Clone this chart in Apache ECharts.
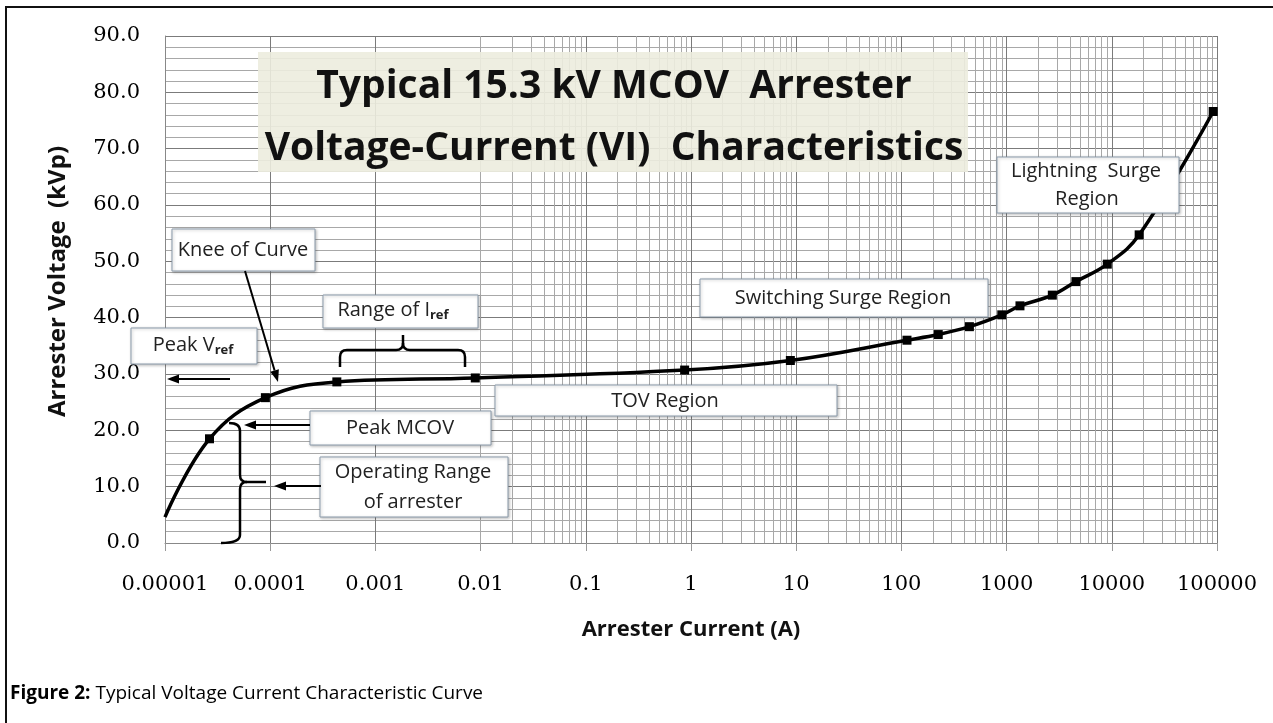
<!DOCTYPE html>
<html>
<head>
<meta charset="utf-8">
<script src="https://cdn.jsdelivr.net/npm/echarts@6/dist/echarts.min.js"></script>
<style>
  html, body { margin: 0; padding: 0; background: #fff; }
  #chart { width: 1273px; height: 723px; }
</style>
</head>
<body>
<div id="chart"></div>
<script>
// values (current in A, voltage in kVp)
const currentA = [1e-5, 2.65e-5, 9.0e-5, 4.3e-4, 8.9e-3, 0.87, 8.8, 113, 224, 443, 900, 1340, 2720, 4560, 9060, 18200, 92000];
const voltageKV = [4.6, 18.5, 25.8, 28.6, 29.3, 30.7, 32.4, 36.0, 37.0, 38.4, 40.5, 42.1, 44.0, 46.4, 49.5, 54.7, 76.6];
const xTickLabels = ['0.00001', '0.0001', '0.001', '0.01', '0.1', '1', '10', '100', '1000', '10000', '100000'];
const decades = [-5, -4, -3, -2, -1, 0, 1, 2, 3, 4];
const minorSteps = [2, 3, 4, 5, 6, 7, 8, 9];

const SANS = '"Open Sans", "Noto Sans", sans-serif';
const SERIF = '"DejaVu Serif", "Liberation Serif", serif';

const curve = currentA.map((x, i) => ({
  value: [x, voltageKV[i]],
  symbol: i === 0 ? 'none' : 'rect'
}));

// minor log gridlines (2..9 inside each decade)
const minorGrid = [];
decades.forEach(d => minorSteps.forEach(k => minorGrid.push({ xAxis: k * Math.pow(10, d) })));

function box(x, y, w, h) {
  return {
    type: 'rect', z: 100,
    shape: { x, y, width: w, height: h },
    style: { fill: '#fff', stroke: '#8b9bab', lineWidth: 1, shadowBlur: 3, shadowOffsetX: 1, shadowOffsetY: 1, shadowColor: 'rgba(0,0,0,0.25)' }
  };
}
function label(x, y, text, extra) {
  return {
    type: 'text', z: 101, x, y,
    style: Object.assign({ text, font: '20px ' + SANS, fill: '#222', align: 'center', verticalAlign: 'middle' }, extra || {})
  };
}
function arrow(x1, y1, x2, y2) {
  const dx = x2 - x1, dy = y2 - y1, len = Math.hypot(dx, dy);
  const ux = dx / len, uy = dy / len, hl = 12, hw = 4.5;
  const bx = x2 - ux * hl, by = y2 - uy * hl;
  return [
    { type: 'line', z: 102, shape: { x1, y1, x2: bx, y2: by }, style: { stroke: '#000', lineWidth: 2 } },
    { type: 'polygon', z: 102, shape: { points: [[x2, y2], [bx - uy * hw, by + ux * hw], [bx + uy * hw, by - ux * hw]] }, style: { fill: '#000' } }
  ];
}
// brace made of straight ('L') and quadratic ('Q') pieces
function brace(parts) {
  const st = { stroke: '#000', lineWidth: 2.5, fill: null };
  return parts.map(p => p[0] === 'L'
    ? { type: 'line', z: 102, shape: { x1: p[1], y1: p[2], x2: p[3], y2: p[4] }, style: st }
    : { type: 'bezierCurve', z: 102, shape: { x1: p[1], y1: p[2], cpx1: p[3], cpy1: p[4], x2: p[5], y2: p[6] }, style: st });
}

const subRich = {
  m: { font: '20px ' + SANS, fill: '#222' },
  s: { font: 'bold 13px ' + SANS, fill: '#222', padding: [10, 0, 0, 0] }
};

const graphics = [
  // title panel
  { type: 'rect', z: 90, shape: { x: 258, y: 52, width: 710, height: 120 }, style: { fill: 'rgba(236,236,222,0.9)' } },
  label(614, 87, 'Typical 15.3 kV MCOV  Arrester', { font: 'bold 39px ' + SANS, fill: '#111' }),
  label(614, 149, 'Voltage-Current (VI)  Characteristics', { font: 'bold 39px ' + SANS, fill: '#111' }),

  box(172, 229, 143, 42), label(243, 250, 'Knee of Curve'),
  box(323, 295, 155, 33), label(393, 310, '{m|Range of I}{s|ref}', { rich: subRich }),
  box(131, 328, 126, 36), label(193, 345, '{m|Peak V}{s|ref}', { rich: subRich }),
  box(310, 411, 181, 34), label(400, 428, 'Peak MCOV'),
  box(320, 457, 188, 60), label(413, 472, 'Operating Range'), label(413, 502, 'of arrester'),
  box(495, 385, 342, 31), label(665, 401, 'TOV Region'),
  box(700, 279, 288, 38), label(843, 298, 'Switching Surge Region'),
  box(997, 157, 182, 56), label(1086, 171, 'Lightning  Surge'), label(1087, 199, 'Region'),

  ...arrow(245, 271, 278, 382),
  ...arrow(230, 379, 167, 379),
  ...arrow(310, 425, 244, 425),
  ...arrow(321, 486, 274, 486),
  ...brace([
    ['Q', 229, 423, 240, 423, 240, 431], ['L', 240, 431, 240, 475], ['Q', 240, 475, 240, 482, 247, 482],
    ['L', 247, 482, 266, 482], ['Q', 247, 482, 240, 482, 240, 489], ['L', 240, 489, 240, 535],
    ['Q', 240, 535, 240, 543, 221, 543]
  ]),
  ...brace([
    ['L', 340, 367, 340, 357], ['Q', 340, 357, 340, 350, 347, 350], ['L', 347, 350, 396, 350],
    ['Q', 396, 350, 403, 350, 403, 343], ['L', 403, 343, 403, 335], ['Q', 403, 343, 403, 350, 410, 350],
    ['L', 410, 350, 458, 350], ['Q', 458, 350, 465, 350, 465, 357], ['L', 465, 357, 465, 367]
  ]),

  // figure frame and caption
  { type: 'line', z: 110, shape: { x1: 5, y1: 7, x2: 1273, y2: 7 }, style: { stroke: '#111', lineWidth: 2 } },
  { type: 'line', z: 110, shape: { x1: 6, y1: 7, x2: 6, y2: 723 }, style: { stroke: '#111', lineWidth: 2 } },
  {
    type: 'text', z: 110, x: 10, y: 694,
    style: {
      text: '{b|Figure 2:}{r| Typical Voltage Current Characteristic Curve}',
      verticalAlign: 'middle',
      rich: { b: { font: 'bold 19px ' + SANS, fill: '#000' }, r: { font: '19px ' + SANS, fill: '#000' } }
    }
  }
];

const option = {
  animation: false,
  backgroundColor: '#fff',
  grid: { left: 165, right: 56, top: 36, bottom: 180 },
  xAxis: {
    type: 'log', logBase: 10, min: 1e-5, max: 1e5, interval: 1, splitNumber: 10,
    name: 'Arrester Current (A)', nameLocation: 'middle', nameGap: 76,
    nameTextStyle: { fontFamily: SANS, fontWeight: 'bold', fontSize: 22, color: '#111' },
    axisLine: { lineStyle: { color: '#888', width: 1 } },
    axisTick: { show: true, length: 8, lineStyle: { color: '#999' } },
    axisLabel: {
      margin: 31, fontFamily: SERIF, fontSize: 21, color: '#000',
      formatter: v => xTickLabels[Math.round(Math.log10(v)) + 5]
    },
    splitLine: { show: true, lineStyle: { color: '#7b7b7b', width: 1 } }
  },
  yAxis: {
    type: 'value', min: 0, max: 90, interval: 10,
    name: 'Arrester Voltage  (kVp)', nameLocation: 'middle', nameGap: 95, nameRotate: 90,
    nameTextStyle: { fontFamily: SANS, fontWeight: 'bold', fontSize: 24, color: '#111', padding: [0, 0, 0, 16] },
    axisLine: { show: true, lineStyle: { color: '#888', width: 1 } },
    axisTick: { show: false },
    minorTick: { show: false, splitNumber: 5 },
    axisLabel: { margin: 25, fontFamily: SERIF, fontSize: 21, color: '#000', formatter: v => v.toFixed(1) },
    splitLine: { show: true, lineStyle: { color: '#7b7b7b', width: 1 } },
    minorSplitLine: { show: true, lineStyle: { color: '#a8a8a8', width: 1 } }
  },
  series: [
    {
      type: 'line', data: [], silent: true, z: 1,
      markLine: { silent: true, symbol: 'none', label: { show: false }, animation: false,
        lineStyle: { color: '#a8a8a8', width: 1, type: 'solid' }, data: minorGrid }
    },
    {
      type: 'line', data: curve, smooth: 0.4, z: 5,
      symbolSize: 9, itemStyle: { color: '#000' },
      lineStyle: { color: '#000', width: 3.5 }
    }
  ],
  graphic: graphics
};

const chart = echarts.init(document.getElementById('chart'));
chart.setOption(option);
</script>
</body>
</html>
